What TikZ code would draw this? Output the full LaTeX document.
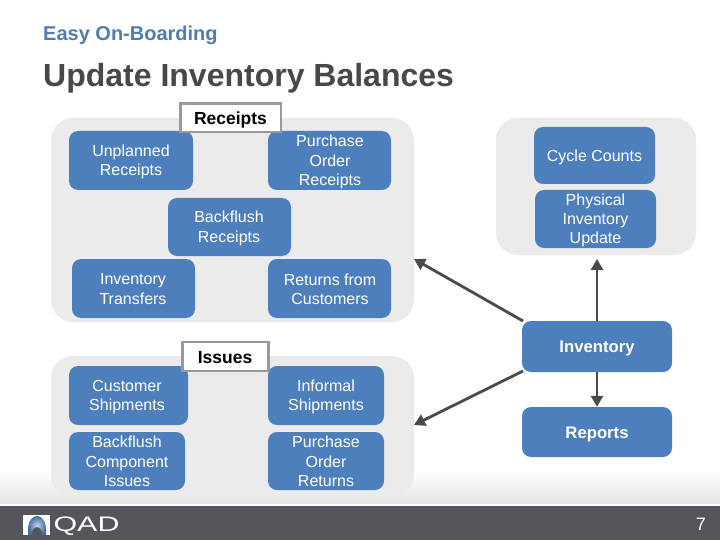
\documentclass[tikz,border=0pt]{standalone}
\usepackage{fontspec}
\setmainfont{Liberation Sans}
\usetikzlibrary{arrows.meta,positioning}
\definecolor{qblue}{HTML}{4E7FBD}
\definecolor{qpanel}{HTML}{EBEBEB}
\definecolor{qdark}{HTML}{53565A}
\definecolor{qarrow}{HTML}{4A4A4A}
\definecolor{qtitle}{HTML}{484848}
\definecolor{qhead}{HTML}{4F7DAF}
\newcommand{\boxat}[6]{\node[#1] (#2) at ({(#3+#5)/2},{(#4+#6)/2}) [minimum width={(#5-#3)*1pt},minimum height={(#6-#4)*1pt}] {};}
\tikzset{
  x=1pt,y=-1pt,
  panel/.style={fill=qpanel,rounded corners=22pt,inner sep=0pt,draw=none},
  bluebox/.style={fill=qblue,rounded corners=9pt,inner sep=0pt,draw=none},
  label/.style={text=white,align=center,font=\fontsize{16}{19.3}\selectfont,inner sep=0pt},
  boldlabel/.style={text=white,align=center,font=\fontsize{16.7}{19}\selectfont\bfseries,inner sep=0pt},
  head/.style={text=black,font=\fontsize{17.5}{19}\selectfont\bfseries,inner sep=0pt},
  tagbox/.style={draw=black!40,line width=2.5pt,fill=white,inner sep=0pt},
  link/.style={draw=qarrow,line width=2.8pt,-{Triangle[length=11pt,width=12pt]}},
}
\begin{document}
\begin{tikzpicture}
\useasboundingbox (0,0) rectangle (720,540);
\fill[white] (0,0) rectangle (720,540);
\shade[top color=white,bottom color=black!10] (0,470) rectangle (720,503);
\fill[qdark] (0,506) rectangle (720,540);
% panels
\boxat{panel}{pa}{51}{118}{414}{322}
\boxat{panel}{pb}{51}{356}{414}{497}
\boxat{panel}{pc}{496}{118}{696}{255}
% titles
\node[anchor=west,text=qhead,inner sep=0pt,font=\fontsize{20}{24}\selectfont\bfseries] (t1) at (43,35) {Easy On-Boarding};
\node[anchor=west,text=qtitle,inner sep=0pt,font=\fontsize{32}{38}\selectfont\bfseries] (t2) at (43,78) {Update Inventory Balances};
% blue boxes
\boxat{bluebox}{b1}{69}{131}{193}{190}
\boxat{bluebox}{b2}{268}{131}{391}{190}
\boxat{bluebox}{b3}{168}{198}{291}{256}
\boxat{bluebox}{b4}{72}{259}{195}{318}
\boxat{bluebox}{b5}{268}{259}{391}{318}
\boxat{bluebox}{b6}{69}{366}{188}{425}
\boxat{bluebox}{b7}{268}{366}{384}{425}
\boxat{bluebox}{b8}{69}{432}{185}{490}
\boxat{bluebox}{b9}{268}{432}{384}{490}
\boxat{bluebox}{b10}{534}{127}{655}{184}
\boxat{bluebox}{b11}{535}{190}{656}{248}
\boxat{bluebox}{inv}{522}{321}{672}{372}
\boxat{bluebox}{rep}{522}{407}{672}{457}
% labels
\node[label] (l1) at (131,162) {Unplanned\\Receipts};
\node[label] (l2) at (330,162) {Purchase\\Order\\Receipts};
\node[label] (l3) at (229,228.5) {Backflush\\Receipts};
\node[label] (l4) at (133,289) {Inventory\\Transfers};
\node[label] (l5) at (330,289) {Returns from\\Customers};
\node[label] (l6) at (127,397) {Customer\\Shipments};
\node[label] (l7) at (326,397) {Informal\\Shipments};
\node[label] (l8) at (127,461.5) {Backflush\\Component\\Issues};
\node[label] (l9) at (326,461.5) {Purchase\\Order\\Returns};
\node[label] (l10) at (594.5,157) {Cycle Counts};
\node[label] (l11) at (595.5,220.5) {Physical\\Inventory\\Update};
\node[boldlabel] (l12) at (597,348) {Inventory};
\node[boldlabel] (l13) at (597,434) {Reports};
% section tags
\boxat{tagbox}{rc}{180.5}{103.5}{281}{132}
\node[head] (h1) at (230.5,119.5) {Receipts};
\boxat{tagbox}{ic}{182.5}{342}{268.5}{371}
\node[head] (h2) at (225,358) {Issues};
% connectors
\coordinate (e1) at (414,259);
\coordinate (e2) at (414,425);
\coordinate (e3) at (597,259);
\coordinate (s1) at (523,321);
\coordinate (s2) at (523,371);
\draw[link] (s1) -- (e1);
\draw[link] (s2) -- (e2);
\draw[link] (inv.north) -- (e3);
\draw[link] (inv.south) -- (rep.north);
% footer logo
\fill[white] (23,515) rectangle (50,535);
\shade[inner color=white!65!qblue,outer color=qblue!85!black] (28,535) -- (28,527) .. controls (29,520) and (33,516) .. (37,516) .. controls (41,516) and (45,520) .. (46,527) -- (46,535) -- cycle;
\fill[qdark] (32,535.5) -- (32,533) .. controls (33,529) and (35,527) .. (37,527) .. controls (39,527) and (41,529) .. (42,533) -- (42,535.5) -- cycle;
\node[text=white,inner sep=0pt,font=\fontsize{21}{24}\selectfont,xscale=1.45] (qad) at (86.5,526) {QAD};
\node[text=white,anchor=east,inner sep=0pt,font=\fontsize{18}{20}\selectfont] (pg) at (706,524) {7};
\end{tikzpicture}
\end{document}
